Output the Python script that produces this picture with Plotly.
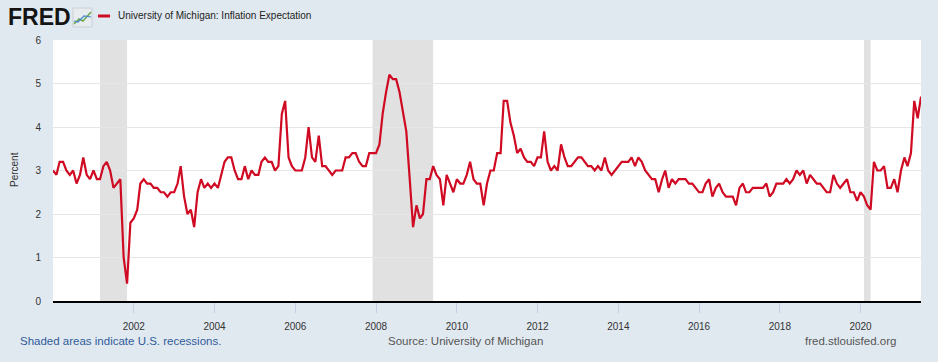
import pandas as pd
import plotly.graph_objects as go

# ---------------- data ----------------
series_name = "University of Michigan: Inflation Expectation"
start_month = "2000-01-01"
expectation = [
    3.0, 2.9, 3.2, 3.2, 3.0, 2.9, 3.0, 2.7, 2.9, 3.3, 2.9, 2.8,   # 2000
    3.0, 2.8, 2.8, 3.1, 3.2, 3.0, 2.6, 2.7, 2.8, 1.0, 0.4, 1.8,   # 2001
    1.9, 2.1, 2.7, 2.8, 2.7, 2.7, 2.6, 2.6, 2.5, 2.5, 2.4, 2.5,   # 2002
    2.5, 2.7, 3.1, 2.4, 2.0, 2.1, 1.7, 2.5, 2.8, 2.6, 2.7, 2.6,   # 2003
    2.7, 2.6, 2.9, 3.2, 3.3, 3.3, 3.0, 2.8, 2.8, 3.1, 2.8, 3.0,   # 2004
    2.9, 2.9, 3.2, 3.3, 3.2, 3.2, 3.0, 3.1, 4.3, 4.6, 3.3, 3.1,   # 2005
    3.0, 3.0, 3.0, 3.3, 4.0, 3.3, 3.2, 3.8, 3.1, 3.1, 3.0, 2.9,   # 2006
    3.0, 3.0, 3.0, 3.3, 3.3, 3.4, 3.4, 3.2, 3.1, 3.1, 3.4, 3.4,   # 2007
    3.4, 3.6, 4.3, 4.8, 5.2, 5.1, 5.1, 4.8, 4.3, 3.9, 2.8, 1.7,   # 2008
    2.2, 1.9, 2.0, 2.8, 2.8, 3.1, 2.9, 2.8, 2.2, 2.9, 2.7, 2.5,   # 2009
    2.8, 2.7, 2.7, 2.9, 3.2, 2.8, 2.7, 2.7, 2.2, 2.7, 3.0, 3.0,   # 2010
    3.4, 3.4, 4.6, 4.6, 4.1, 3.8, 3.4, 3.5, 3.3, 3.2, 3.2, 3.1,   # 2011
    3.3, 3.3, 3.9, 3.2, 3.0, 3.1, 3.0, 3.6, 3.3, 3.1, 3.1, 3.2,   # 2012
    3.3, 3.3, 3.2, 3.1, 3.1, 3.0, 3.1, 3.0, 3.3, 3.0, 2.9, 3.0,   # 2013
    3.1, 3.2, 3.2, 3.2, 3.3, 3.1, 3.3, 3.2, 3.0, 2.9, 2.8, 2.8,   # 2014
    2.5, 2.8, 3.0, 2.6, 2.8, 2.7, 2.8, 2.8, 2.8, 2.7, 2.7, 2.6,   # 2015
    2.5, 2.5, 2.7, 2.8, 2.4, 2.6, 2.7, 2.5, 2.4, 2.4, 2.4, 2.2,   # 2016
    2.6, 2.7, 2.5, 2.5, 2.6, 2.6, 2.6, 2.6, 2.7, 2.4, 2.5, 2.7,   # 2017
    2.7, 2.7, 2.8, 2.7, 2.8, 3.0, 2.9, 3.0, 2.7, 2.9, 2.8, 2.7,   # 2018
    2.7, 2.6, 2.5, 2.5, 2.9, 2.7, 2.6, 2.7, 2.8, 2.5, 2.5, 2.3,   # 2019
    2.5, 2.4, 2.2, 2.1, 3.2, 3.0, 3.0, 3.1, 2.6, 2.6, 2.8, 2.5,   # 2020
    3.0, 3.3, 3.1, 3.4, 4.6, 4.2, 4.7,                            # 2021
]
recession_starts = ["2001-03-01", "2007-12-01", "2020-02-01"]
recession_ends = ["2001-11-01", "2009-06-01", "2020-04-01"]
x_tick_years = [2002, 2004, 2006, 2008, 2010, 2012, 2014, 2016, 2018, 2020]
y_ticks = [0, 1, 2, 3, 4, 5, 6]
x_range = ["2000-01-01", "2021-07-01"]

# ---------------- layout constants ----------------
W, H = 938, 362
ML, MR, MT, MB = 53, 17, 40, 61
PW, PH = W - ML - MR, H - MT - MB
FONT = "Liberation Sans, Arial, sans-serif"
BG = "#e1e9f0"
RED = "#cf0a22"


def px(x):
    return (x - ML) / PW


def py(y):
    return (H - MB - y) / PH


dates = pd.date_range(start_month, periods=len(expectation), freq="MS")

fig = go.Figure()
fig.add_trace(go.Scatter(
    x=dates, y=expectation, mode="lines",
    line=dict(color=RED, width=2.2),
    name=series_name, showlegend=False,
    hovertemplate="%{x|%Y-%m}: %{y}<extra></extra>",
))

shapes = []
for s, e in zip(recession_starts, recession_ends):
    shapes.append(dict(type="rect", xref="x", yref="y", x0=s, x1=e, y0=0, y1=6,
                       fillcolor="#e1e1e1", line=dict(width=0), layer="below"))

# legend swatch
shapes.append(dict(type="line", xref="paper", yref="paper",
                   x0=px(98), x1=px(110), y0=py(16), y1=py(16),
                   line=dict(color=RED, width=3)))
# small FRED chart icon
shapes.append(dict(type="rect", xref="paper", yref="paper",
                   x0=px(73), x1=px(92), y0=py(27), y1=py(8),
                   fillcolor="#e8ecef", line=dict(color="#c8d0d6", width=1)))
shapes.append(dict(type="path", xref="paper", yref="paper",
                   path=f"M {px(74)} {py(24)} L {px(79)} {py(19)} L {px(83)} {py(21)} L {px(91)} {py(12)}",
                   line=dict(color="#6aa84f", width=1.5)))
shapes.append(dict(type="path", xref="paper", yref="paper",
                   path=f"M {px(74)} {py(21)} L {px(78)} {py(22)} L {px(84)} {py(16)} L {px(91)} {py(17)}",
                   line=dict(color="#4a86c8", width=1.2)))

annotations = [
    dict(text="<b>FRED</b>", x=px(6), y=py(17), xref="paper", yref="paper",
         xanchor="left", yanchor="middle", showarrow=False,
         font=dict(family=FONT, size=23, color="#141414")),
    dict(text=series_name, x=px(116), y=py(16), xref="paper", yref="paper",
         xanchor="left", yanchor="middle", showarrow=False,
         font=dict(family=FONT, size=10, color="#222222")),
    dict(text="Percent", x=px(14), y=py(170), xref="paper", yref="paper",
         xanchor="center", yanchor="middle", textangle=-90, showarrow=False,
         font=dict(family=FONT, size=10, color="#333333")),
    dict(text="Shaded areas indicate U.S. recessions.", x=px(18), y=py(341),
         xref="paper", yref="paper", xanchor="left", yanchor="middle", showarrow=False,
         font=dict(family=FONT, size=11.5, color="#2f5b9a")),
    dict(text="Source: University of Michigan", x=px(465), y=py(341),
         xref="paper", yref="paper", xanchor="center", yanchor="middle", showarrow=False,
         font=dict(family=FONT, size=11.5, color="#555555")),
    dict(text="fred.stlouisfed.org", x=px(898), y=py(341),
         xref="paper", yref="paper", xanchor="right", yanchor="middle", showarrow=False,
         font=dict(family=FONT, size=11.5, color="#555555")),
]

fig.update_layout(
    width=W, height=H,
    margin=dict(l=ML, r=MR, t=MT, b=MB, pad=0),
    paper_bgcolor=BG, plot_bgcolor="#ffffff",
    shapes=shapes, annotations=annotations,
    showlegend=False,
    xaxis=dict(
        type="date", range=x_range,
        tickvals=[f"{y}-01-01" for y in x_tick_years],
        ticktext=[str(y) for y in x_tick_years],
        showgrid=False, zeroline=False,
        showline=True, linecolor="#000000", linewidth=2,
        ticks="outside", ticklen=10, tickcolor="#c3d0df", tickwidth=1,
        ticklabelstandoff=5,
        tickfont=dict(family=FONT, size=10, color="#333333"),
    ),
    yaxis=dict(
        range=[0, 6], tickvals=y_ticks, ticktext=[str(v) for v in y_ticks],
        showgrid=True, gridcolor="#e6e6e6", gridwidth=1,
        zeroline=False, showline=False,
        ticks="outside", ticklen=9, tickcolor="rgba(0,0,0,0)",
        tickfont=dict(family=FONT, size=10, color="#333333"),
    ),
)

fig.write_html(
    "out.html",
    config={"displayModeBar": False},
    post_script="document.body.style.margin='0';document.body.style.background='" + BG + "';",
)
